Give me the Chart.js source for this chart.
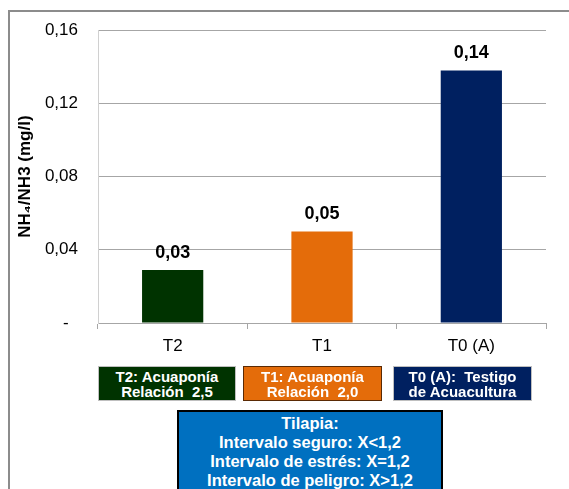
<!DOCTYPE html>
<html>
<head>
<meta charset="utf-8">
<script src="https://cdn.jsdelivr.net/npm/chart.js@4.4.1/dist/chart.umd.min.js"></script>
<style>
  html, body { margin: 0; padding: 0; background: #fff; }
  #wrap { position: relative; width: 569px; height: 489px; overflow: hidden; font-family: "Liberation Sans", Arial, sans-serif; }
  #frame { position: absolute; left: 8px; top: 10px; width: 600px; height: 500px; border-left: 2px solid #8c8c8c; border-top: 2px solid #8c8c8c; }
  #chart { position: absolute; left: 0; top: 0; }
  .key { position: absolute; color: #fff; font-weight: bold; font-size: 15px; line-height: 15px; text-align: center; box-sizing: border-box; padding-top: 2px; }
  #note { position: absolute; left: 177px; top: 410px; width: 266px; height: 90px; background: #0070c0; border: 2px solid #000; box-sizing: border-box;
          color: #fff; font-weight: bold; font-size: 16.5px; line-height: 19px; text-align: center; padding-top: 2px; }
</style>
</head>
<body>
<div id="wrap">
  <div id="frame"></div>
  <canvas id="chart" width="569" height="489"></canvas>
  <div class="key" style="left:98px; top:366px; width:138px; height:35px; background:#003300; border:1px solid #bfbfbf;">T2: Acuaponía<br>Relación&nbsp; 2,5</div>
  <div class="key" style="left:243px; top:366px; width:139px; height:35px; background:#e46c0a; border:1px solid #5a2a04;">T1: Acuaponía<br>Relación&nbsp; 2,0</div>
  <div class="key" style="left:393px; top:366px; width:139px; height:35px; background:#002060; border:1px solid #bfbfbf;">T0 (A):&nbsp; Testigo<br>de Acuacultura</div>
  <div id="note">Tilapia:<br>Intervalo seguro: X&lt;1,2<br>Intervalo de estrés: X=1,2<br>Intervalo de peligro: X&gt;1,2</div>
</div>
<script>
const categories = ['T2', 'T1', 'T0 (A)'];
const nh3Values = [0.029, 0.05, 0.138];
const barColors = ['#003300', '#e46c0a', '#002060'];
const yTicks = [0, 0.04, 0.08, 0.12, 0.16];

const fmt = v => v.toFixed(2).replace('.', ',');

// value labels above each bar
const valueLabels = {
    id: 'valueLabels',
    afterDatasetsDraw(chart) {
        const ctx = chart.ctx;
        const meta = chart.getDatasetMeta(0);
        ctx.save();
        ctx.font = 'bold 18px "Liberation Sans", Arial, sans-serif';
        ctx.fillStyle = '#000';
        ctx.textAlign = 'center';
        ctx.textBaseline = 'bottom';
        meta.data.forEach((bar, i) => {
            ctx.fillText(fmt(nh3Values[i]), bar.x, bar.y - 8);
        });
        ctx.restore();
    }
};

new Chart(document.getElementById('chart'), {
    type: 'bar',
    data: {
        labels: categories,
        datasets: [{
            data: nh3Values,
            backgroundColor: barColors,
            borderWidth: 0,
            categoryPercentage: 1,
            barPercentage: 0.41,
        }],
    },
    options: {
        responsive: false,
        animation: false,
        devicePixelRatio: 1,
        layout: { padding: { left: 9, top: 27, right: 23, bottom: 0 } },
        plugins: { legend: { display: false }, tooltip: { enabled: false } },
        scales: {
            x: {
                grid: { drawOnChartArea: false, tickLength: 6, color: '#a6a6a6' },
                border: { color: '#a6a6a6' },
                ticks: { color: '#000', padding: 7, font: { size: 17, family: '"Liberation Sans", Arial, sans-serif' } },
                afterFit: s => { s.height = 166; },
            },
            y: {
                min: 0,
                max: 0.16,
                afterBuildTicks: s => { s.ticks = yTicks.map(v => ({ value: v })); },
                grid: { drawTicks: false, color: '#a6a6a6' },
                border: { color: '#d0d0d0' },
                ticks: {
                    color: '#000',
                    padding: 20,
                    font: { size: 17, family: '"Liberation Sans", Arial, sans-serif' },
                    callback: v => v === 0 ? '-  ' : fmt(v),
                },
                title: {
                    display: true,
                    text: 'NH\u2084/NH3 (mg/l)',
                    color: '#000',
                    padding: { top: 6, bottom: 0 },
                    font: { size: 17, weight: 'bold', family: '"Liberation Sans", Arial, sans-serif' },
                },
                afterFit: s => { s.width = 89; },
            },
        },
    },
    plugins: [valueLabels],
});
</script>
</body>
</html>
